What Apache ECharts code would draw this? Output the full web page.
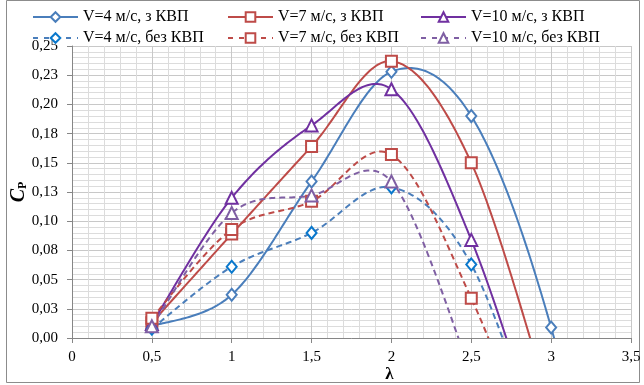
<!DOCTYPE html>
<html>
<head>
<meta charset="utf-8">
<script src="https://cdn.jsdelivr.net/npm/echarts@6/dist/echarts.min.js"></script>
<style>
html,body{margin:0;padding:0;background:#fff;}
#chart{width:644px;height:385px;}
</style>
</head>
<body>
<div id="chart"></div>
<script>
// Tip speed ratio values (x)
var lambda = [0.5, 1, 1.5, 2, 2.5, 3, 3.5];
// Power coefficient Cp series (values below 0 lie outside the plot and are clipped, as in the original)
var cp_v4_kvp  = [0.010, 0.037, 0.134, 0.228, 0.190, 0.009, -0.29];
var cp_v7_kvp  = [0.013, 0.089, 0.164, 0.237, 0.150, -0.06];
var cp_v10_kvp = [0.012, 0.120, 0.182, 0.213, 0.084, -0.12];
var cp_v4_bez  = [0.008, 0.061, 0.090, 0.129, 0.063, -0.12];
var cp_v7_bez  = [0.017, 0.093, 0.117, 0.157, 0.034, -0.14];
var cp_v10_bez = [0.010, 0.107, 0.122, 0.134, -0.03];

var names = ['V=4 м/с, з КВП', 'V=7 м/с, з КВП', 'V=10 м/с, з КВП',
             'V=4 м/с, без КВП', 'V=7 м/с, без КВП', 'V=10 м/с, без КВП'];

var serif = '"Liberation Serif", "DejaVu Serif", serif';

var styles = [
  { ys: cp_v4_kvp,  line: '#4A7EBB', mark: '#4A7EBB', symbol: 'emptyDiamond',  size: [10, 12], dashed: false },
  { ys: cp_v7_kvp,  line: '#BE4B48', mark: '#BE4B48', symbol: 'emptyRect',     size: 11,       dashed: false },
  { ys: cp_v10_kvp, line: '#7030A0', mark: '#7030A0', symbol: 'emptyTriangle', size: 12,       dashed: false },
  { ys: cp_v4_bez,  line: '#4A7EBB', mark: '#0A78CC', symbol: 'emptyDiamond',  size: [10, 12], dashed: true },
  { ys: cp_v7_bez,  line: '#BE4B48', mark: '#BE4B48', symbol: 'emptyRect',     size: 11,       dashed: true },
  { ys: cp_v10_bez, line: '#7F5FA3', mark: '#7F5FA3', symbol: 'emptyTriangle', size: 12,       dashed: true }
];

function pairs(ys) {
  return ys.map(function (y, i) { return [lambda[i], y]; });
}

// Smoothed curve (spline with 1/6 tangents, like a spreadsheet "smoothed line"),
// drawn in pixel space from the data through the axis scales.
function curveSeries(k, st) {
  var ys = st.ys;
  return {
    type: 'custom',
    name: '_curve' + k,
    coordinateSystem: 'cartesian2d',
    data: [[lambda[0], ys[0]]],
    silent: true,
    clip: true,
    z: 2,
    renderItem: function (params, api) {
      var pts = ys.map(function (y, i) { return api.coord([lambda[i], y]); });
      var n = pts.length;
      var poly = [pts[0]];
      for (var i = 0; i < n - 1; i++) {
        var p0 = pts[i > 0 ? i - 1 : 0], p1 = pts[i], p2 = pts[i + 1], p3 = pts[i + 2 < n ? i + 2 : n - 1];
        var c1 = [p1[0] + (p2[0] - p0[0]) / 6, p1[1] + (p2[1] - p0[1]) / 6];
        var c2 = [p2[0] - (p3[0] - p1[0]) / 6, p2[1] - (p3[1] - p1[1]) / 6];
        for (var s = 1; s <= 40; s++) {
          var t = s / 40, u = 1 - t;
          var a = u * u * u, b = 3 * u * u * t, c = 3 * u * t * t, d = t * t * t;
          poly.push([a * p1[0] + b * c1[0] + c * c2[0] + d * p2[0],
                     a * p1[1] + b * c1[1] + c * c2[1] + d * p2[1]]);
        }
      }
      var cs = params.coordSys;
      return {
        type: 'group',
        clipPath: { type: 'rect', shape: { x: cs.x, y: cs.y, width: cs.width, height: cs.height } },
        children: [{
          type: 'polyline',
          shape: { points: poly },
          style: { stroke: st.line, lineWidth: 2, fill: null, lineDash: st.dashed ? [6, 4] : null }
        }]
      };
    }
  };
}

function markerSeries(k, st) {
  return {
    name: names[k],
    type: 'line',
    data: pairs(st.ys),
    clip: true,
    symbol: st.symbol,
    symbolSize: st.size,
    showAllSymbol: true,
    lineStyle: { width: 0, opacity: 0 },
    itemStyle: { color: st.mark, borderColor: st.mark, borderWidth: 1.6 },
    emphasis: { disabled: true },
    z: 3
  };
}

var series = [];
styles.forEach(function (st, k) { series.push(curveSeries(k, st)); });
styles.forEach(function (st, k) { series.push(markerSeries(k, st)); });

var legendLeft = [32, 227, 420];
var legendTop = [9, 30];
var legends = styles.map(function (st, k) {
  return {
    left: legendLeft[k % 3],
    top: legendTop[Math.floor(k / 3)],
    padding: 0,
    itemWidth: 45,
    itemHeight: 12,
    selectedMode: false,
    data: [{
      name: names[k],
      lineStyle: { color: st.line, width: 2, type: st.dashed ? [5, 6] : 'solid', opacity: 1 },
      itemStyle: { color: st.mark, borderColor: st.mark }
    }],
    textStyle: { fontFamily: serif, fontSize: 16, color: '#000' }
  };
});

var chart = echarts.init(document.getElementById('chart'), null, { renderer: 'canvas' });
chart.setOption({
  animation: false,
  backgroundColor: '#fff',
  legend: legends,
  grid: { left: 72, top: 46, right: 13, bottom: 47, containLabel: false, outerBoundsMode: 'none' },
  xAxis: {
    type: 'value',
    min: 0, max: 3.5, interval: 0.5,
    name: 'λ',
    nameLocation: 'middle',
    nameGap: 28,
    nameMoveOverlap: false,
    nameTextStyle: { fontFamily: serif, fontSize: 17, fontWeight: 'bold', color: '#000', padding: [0, 0, 0, 76] },
    axisLine: { lineStyle: { color: '#868686', width: 1 } },
    axisTick: { show: true, length: 5, inside: false, lineStyle: { color: '#868686' } },
    minorTick: { show: false, splitNumber: 5 },
    axisLabel: {
      fontFamily: serif, fontSize: 15, color: '#000', margin: 12,
      formatter: function (v) { return String(v).replace('.', ','); }
    },
    splitLine: { show: true, lineStyle: { color: '#C8C8C8', width: 1 } },
    minorSplitLine: { show: true, lineStyle: { color: '#DCDCDC', width: 1 } }
  },
  yAxis: {
    type: 'value',
    min: 0, max: 0.25, interval: 0.025,
    name: '{c|C}{p|P}',
    nameLocation: 'middle',
    nameGap: 43,
    nameMoveOverlap: false,
    nameRotate: 90,
    nameTextStyle: {
      rich: {
        c: { fontFamily: serif, fontSize: 20, fontWeight: 'bold', fontStyle: 'italic', color: '#000' },
        p: { fontFamily: serif, fontSize: 12, fontWeight: 'bold', color: '#000', verticalAlign: 'bottom', padding: [8, 0, 0, 0] }
      }
    },
    axisLine: { show: true, lineStyle: { color: '#868686', width: 1 } },
    axisTick: { show: true, length: 5, inside: false, lineStyle: { color: '#868686' } },
    axisLabel: {
      fontFamily: serif, fontSize: 15, color: '#000', margin: 14,
      formatter: function (v) {
        return (Math.round(v * 100 + 1e-6) / 100).toFixed(2).replace('.', ',');
      }
    },
    splitLine: { show: true, lineStyle: { color: '#C8C8C8', width: 1 } },
    minorTick: { show: false, splitNumber: 5 },
    minorSplitLine: { show: true, lineStyle: { color: '#DCDCDC', width: 1 } }
  },
  graphic: [{
    type: 'rect',
    shape: { x: 6.5, y: 0.5, width: 633, height: 382 },
    style: { fill: null, stroke: '#8C8C8C', lineWidth: 1 },
    silent: true, z: -1
  }],
  series: series
});
</script>
</body>
</html>
